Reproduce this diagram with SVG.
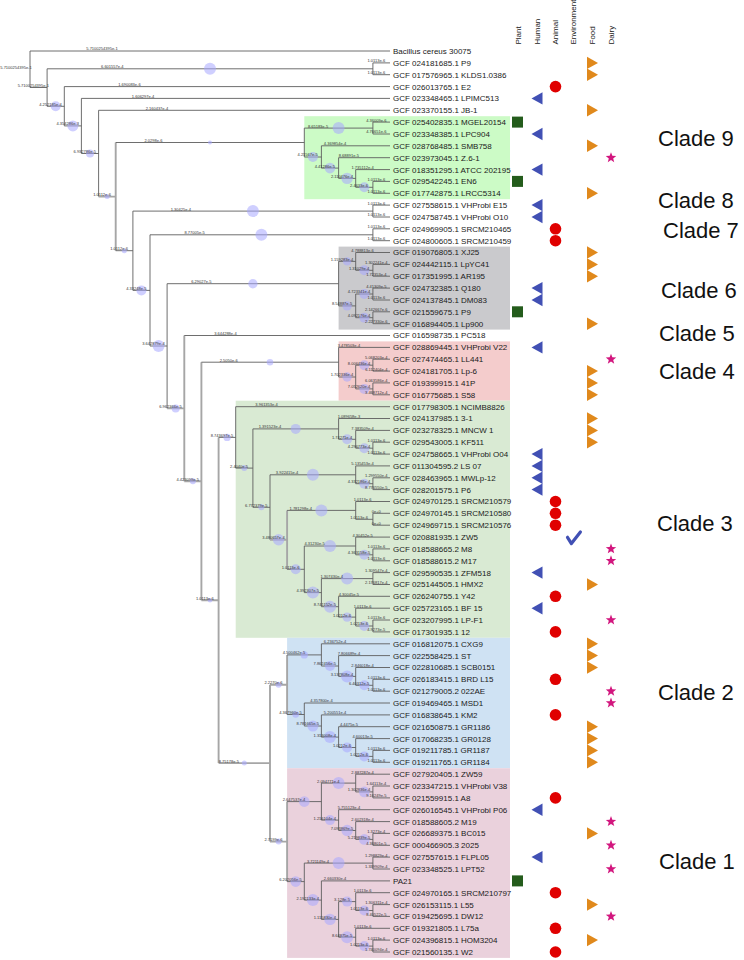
<svg xmlns="http://www.w3.org/2000/svg" width="744" height="960" viewBox="0 0 744 960">
<style>
.ln{fill:none;stroke:#5e5e5e;stroke-width:0.9}
.lt{fill:none;stroke:#a6a6a6;stroke-width:1.9}
.ci{fill:#a8a8ff;fill-opacity:0.55}
.bl{font-family:"Liberation Sans",Arial,sans-serif;font-size:4px;fill:#333;text-anchor:middle}
.lf{font-family:"Liberation Sans",Arial,sans-serif;font-size:8px;fill:#1a1a1a}
.hd{font-family:"Liberation Sans",Arial,sans-serif;font-size:8px;fill:#1a1a1a}
.cl{font-family:"Liberation Sans",Arial,sans-serif;font-size:22px;fill:#111}
</style>
<defs>
<rect id="plant" x="512" y="-5.5" width="11" height="11" fill="#245c1c"/>
<polygon id="human" points="531.5,0 542.5,-6.2 542.5,6.2" fill="#4150b4"/>
<circle id="animal" cx="555.5" cy="0" r="5.8" fill="#e00000"/>
<polygon id="food" points="587,-6.2 587,6.2 598,0" fill="#e0891c"/>
<polygon id="dairy" points="611,-5.5 612.35,-1.86 616.23,-1.7 613.19,0.71 614.23,4.45 611,2.3 607.77,4.45 608.81,0.71 605.77,-1.7 609.65,-1.86" fill="#d2167e"/>
</defs>
<rect width="744" height="960" fill="#ffffff"/>
<g id="clade-boxes">
<rect x="304.3" y="116.2" width="205.7" height="83" fill="#ccfbc6"/>
<rect x="338.6" y="246.6" width="171.4" height="83" fill="#cacacd"/>
<rect x="338.6" y="341.4" width="171.4" height="59.3" fill="#f4cccc"/>
<rect x="235.7" y="400.7" width="274.3" height="237.1" fill="#d9ead3"/>
<rect x="287.1" y="637.8" width="222.9" height="130.4" fill="#cfe2f3"/>
<rect x="287.1" y="768.2" width="222.9" height="189.7" fill="#ead1dc"/>
</g>
<g id="connectors">
<path class="ln" d="M30 51V87.5M47.1 68.8V106.3M372.9 62.9V74.7M64.3 86.6V125.9M81.4 98.4V153.5M98.6 110.3V196.6M304.3 128.1V157M372.9 122.1V134M321.4 145.8V168.1M338.6 157.7V178.4M355.7 169.6V187.3M372.9 181.4V193.3M132.9 211.1V290.4M372.9 205.1V217M150 234.8V346M372.9 228.8V240.7M167.1 283.7V408.4M338.6 261.4V305.9M355.7 252.5V270.3M372.9 264.4V276.2M355.7 294V317.7M372.9 288.1V300M372.9 311.8V323.7M338.6 347.4V377M355.7 365.2V388.9M372.9 359.2V371.1M372.9 382.9V394.8M235.7 406.7V468.1M252.9 428.9V507.3M338.6 418.5V439.3M355.7 430.4V448.2M372.9 442.2V454.1M270 474.8V539.8M355.7 465.9V483.7M372.9 477.8V489.6M355.7 501.5V519.3M372.9 513.3V525.2M304.3 546V592.6M355.7 537.1V554.8M372.9 548.9V560.8M321.4 578.6V606.7M372.9 572.6V584.5M338.6 596.3V617.1M355.7 608.2V626M372.9 620V631.9M321.4 643.8V666M338.6 655.6V676.4M355.7 667.5V685.3M372.9 679.3V691.2M304.3 703V726M321.4 714.9V737.1M338.6 726.7V747.5M355.7 738.6V756.4M372.9 750.4V762.3M321.4 783.1V820.1M355.7 774.2V791.9M372.9 786V797.9M338.6 809.7V830.5M355.7 821.6V839.4M372.9 833.4V845.3M304.3 863.1V900.1M372.9 857.1V869M321.4 880.9V919.4M338.6 901.6V937.2M355.7 892.7V910.5M372.9 904.6V916.4M355.7 928.3V946.1M372.9 940.1V952"/>
<path class="lt" d="M115.7 142.5V250.7M184.3 335.5V481.2M201.4 362.2V600.3M218.6 437.4V763.1M270 684.7V841.6M287.1 654.9V714.5M287.1 801.6V881.6M287.1 510.4V569.3M98.6 196.6H115.7M167.1 408.4H184.3M184.3 481.2H201.4M201.4 600.3H218.6M218.6 763.1H270M270 684.7H287.1M270 841.6H287.1M270 539.8H287.1"/>
<path class="ln" d="M30 87.5H47.1M47.1 68.8H372.9M47.1 106.3H64.3M64.3 125.9H81.4M81.4 153.5H98.6M115.7 142.5H304.3M115.7 250.7H132.9M132.9 211.1H372.9M132.9 290.4H150M150 234.8H372.9M150 346H167.1M167.1 283.7H338.6M201.4 362.2H338.6M218.6 437.4H235.7M304.3 128.1H372.9M304.3 157H321.4M321.4 168.1H338.6M338.6 178.4H355.7M355.7 187.3H372.9M338.6 261.4H355.7M355.7 270.3H372.9M338.6 305.9H355.7M355.7 294H372.9M355.7 317.7H372.9M338.6 377H355.7M355.7 365.2H372.9M355.7 388.9H372.9M235.7 468.1H252.9M252.9 428.9H338.6M338.6 439.3H355.7M355.7 448.2H372.9M252.9 507.3H270M270 474.8H355.7M355.7 483.7H372.9M287.1 510.4H355.7M355.7 519.3H372.9M287.1 569.3H304.3M304.3 546H355.7M355.7 554.8H372.9M304.3 592.6H321.4M321.4 578.6H372.9M321.4 606.7H338.6M338.6 617.1H355.7M355.7 626H372.9M287.1 654.9H321.4M321.4 666H338.6M338.6 676.4H355.7M355.7 685.3H372.9M287.1 714.5H304.3M304.3 726H321.4M321.4 737.1H338.6M338.6 747.5H355.7M355.7 756.4H372.9M287.1 801.6H321.4M321.4 783.1H355.7M355.7 791.9H372.9M321.4 820.1H338.6M338.6 830.5H355.7M355.7 839.4H372.9M287.1 881.6H304.3M304.3 863.1H372.9M304.3 900.1H321.4M321.4 919.4H338.6M338.6 901.6H355.7M355.7 910.5H372.9M338.6 937.2H355.7M355.7 946.1H372.9"/>
<path class="ln" d="M30 51H390M372.9 62.9H390M372.9 74.7H390M64.3 86.6H390M81.4 98.4H390M98.6 110.3H390M372.9 122.1H390M372.9 134H390M321.4 145.8H390M338.6 157.7H390M355.7 169.6H390M372.9 181.4H390M372.9 193.3H390M372.9 205.1H390M372.9 217H390M372.9 228.8H390M372.9 240.7H390M355.7 252.5H390M372.9 264.4H390M372.9 276.2H390M372.9 288.1H390M372.9 300H390M372.9 311.8H390M372.9 323.7H390M184.3 335.5H390M338.6 347.4H390M372.9 359.2H390M372.9 371.1H390M372.9 382.9H390M372.9 394.8H390M235.7 406.7H390M338.6 418.5H390M355.7 430.4H390M372.9 442.2H390M372.9 454.1H390M355.7 465.9H390M372.9 477.8H390M372.9 489.6H390M355.7 501.5H390M372.9 513.3H390M372.9 525.2H390M355.7 537.1H390M372.9 548.9H390M372.9 560.8H390M372.9 572.6H390M372.9 584.5H390M338.6 596.3H390M355.7 608.2H390M372.9 620H390M372.9 631.9H390M321.4 643.8H390M338.6 655.6H390M355.7 667.5H390M372.9 679.3H390M372.9 691.2H390M304.3 703H390M321.4 714.9H390M338.6 726.7H390M355.7 738.6H390M372.9 750.4H390M372.9 762.3H390M355.7 774.2H390M372.9 786H390M372.9 797.9H390M338.6 809.7H390M355.7 821.6H390M372.9 833.4H390M372.9 845.3H390M372.9 857.1H390M372.9 869H390M321.4 880.9H390M355.7 892.7H390M372.9 904.6H390M372.9 916.4H390M355.7 928.3H390M372.9 940.1H390M372.9 952H390"/>
</g>
<g id="support-circles">
<circle class="ci" cx="55.7" cy="106.3" r="5"/><circle class="ci" cx="72.9" cy="125.9" r="5.5"/><circle class="ci" cx="90" cy="153.5" r="4"/><circle class="ci" cx="107.1" cy="196.6" r="2.5"/><circle class="ci" cx="210" cy="68.8" r="6"/><circle class="ci" cx="210" cy="142.5" r="2"/><circle class="ci" cx="124.3" cy="250.7" r="2.5"/><circle class="ci" cx="252.9" cy="211.1" r="6"/><circle class="ci" cx="141.4" cy="290.4" r="5"/><circle class="ci" cx="261.4" cy="234.8" r="6"/><circle class="ci" cx="158.6" cy="346" r="6"/><circle class="ci" cx="252.9" cy="283.7" r="4.7"/><circle class="ci" cx="175.7" cy="408.4" r="4"/><circle class="ci" cx="192.9" cy="481.2" r="3"/><circle class="ci" cx="270" cy="362.2" r="3.3"/><circle class="ci" cx="210" cy="600.3" r="2.3"/><circle class="ci" cx="227.1" cy="437.4" r="3.7"/><circle class="ci" cx="244.3" cy="763.1" r="2.5"/><circle class="ci" cx="278.6" cy="684.7" r="3"/><circle class="ci" cx="278.6" cy="841.6" r="3"/>
<circle class="ci" cx="338.6" cy="128.1" r="6"/><circle class="ci" cx="312.9" cy="157" r="5"/><circle class="ci" cx="330" cy="168.1" r="5.3"/><circle class="ci" cx="347.1" cy="178.4" r="5.7"/><circle class="ci" cx="364.3" cy="187.3" r="5"/>
<circle class="ci" cx="347.1" cy="261.4" r="4.2"/><circle class="ci" cx="364.3" cy="270.3" r="5"/><circle class="ci" cx="347.1" cy="305.9" r="4.7"/><circle class="ci" cx="364.3" cy="294" r="5"/><circle class="ci" cx="364.3" cy="317.7" r="5"/>
<circle class="ci" cx="347.1" cy="377" r="4.7"/><circle class="ci" cx="364.3" cy="365.2" r="5"/><circle class="ci" cx="364.3" cy="388.9" r="5"/>
<circle class="ci" cx="244.3" cy="468.1" r="3"/><circle class="ci" cx="295.7" cy="428.9" r="5"/><circle class="ci" cx="347.1" cy="439.3" r="5"/><circle class="ci" cx="364.3" cy="448.2" r="5"/><circle class="ci" cx="261.4" cy="507.3" r="3"/><circle class="ci" cx="312.9" cy="474.8" r="6"/><circle class="ci" cx="364.3" cy="483.7" r="5"/><circle class="ci" cx="278.6" cy="539.8" r="5.7"/><circle class="ci" cx="321.4" cy="510.4" r="6"/><circle class="ci" cx="295.7" cy="569.3" r="5"/><circle class="ci" cx="330" cy="546" r="6"/><circle class="ci" cx="364.3" cy="554.8" r="5"/><circle class="ci" cx="312.9" cy="592.6" r="6"/><circle class="ci" cx="347.1" cy="578.6" r="6"/><circle class="ci" cx="330" cy="606.7" r="6"/><circle class="ci" cx="347.1" cy="617.1" r="4.7"/><circle class="ci" cx="364.3" cy="626" r="5"/>
<circle class="ci" cx="304.3" cy="654.9" r="3.7"/><circle class="ci" cx="330" cy="666" r="5"/><circle class="ci" cx="347.1" cy="676.4" r="6"/><circle class="ci" cx="364.3" cy="685.3" r="5"/><circle class="ci" cx="295.7" cy="714.5" r="3.3"/><circle class="ci" cx="312.9" cy="726" r="5.5"/><circle class="ci" cx="330" cy="737.1" r="6"/><circle class="ci" cx="347.1" cy="747.5" r="5"/><circle class="ci" cx="364.3" cy="756.4" r="5"/>
<circle class="ci" cx="304.3" cy="801.6" r="5.3"/><circle class="ci" cx="338.6" cy="783.1" r="6"/><circle class="ci" cx="364.3" cy="791.9" r="5.3"/><circle class="ci" cx="330" cy="820.1" r="5"/><circle class="ci" cx="347.1" cy="830.5" r="5.7"/><circle class="ci" cx="364.3" cy="839.4" r="5.3"/><circle class="ci" cx="295.7" cy="881.6" r="5.3"/><circle class="ci" cx="338.6" cy="863.1" r="6"/><circle class="ci" cx="312.9" cy="900.1" r="6"/><circle class="ci" cx="330" cy="919.4" r="5.7"/><circle class="ci" cx="347.1" cy="901.6" r="5"/><circle class="ci" cx="364.3" cy="910.5" r="5"/><circle class="ci" cx="347.1" cy="937.2" r="6"/><circle class="ci" cx="364.3" cy="946.1" r="5"/>
</g>
<g id="branch-labels">
<text class="bl" x="16" y="68.7">5.7100254395e-1</text>
<text class="bl" x="102" y="50.4">5.7100254395e-1</text>
<text class="bl" x="33.4" y="86.9">5.7100254395e-1</text>
<text class="bl" x="112.3" y="68.2">6.601557e-4</text>
<text class="bl" x="376.3" y="62.3">1.0113e-6</text>
<text class="bl" x="376.3" y="74.1">1.0113e-6</text>
<text class="bl" x="50.5" y="105.7">4.252185e-4</text>
<text class="bl" x="129.4" y="86">1.690083e-6</text>
<text class="bl" x="67.7" y="125.3">4.354286e-3</text>
<text class="bl" x="143.1" y="97.8">1.606297e-4</text>
<text class="bl" x="84.8" y="152.9">6.932786e-5</text>
<text class="bl" x="156.9" y="109.7">2.160437e-4</text>
<text class="bl" x="102" y="196">1.0112e-6</text>
<text class="bl" x="153.4" y="141.9">2.0298e-6</text>
<text class="bl" x="318" y="127.5">8.65183e-5</text>
<text class="bl" x="376.3" y="121.5">4.36009e-6</text>
<text class="bl" x="376.3" y="133.4">4.76651e-6</text>
<text class="bl" x="307.7" y="156.4">4.21567e-5</text>
<text class="bl" x="335.1" y="145.2">4.369854e-4</text>
<text class="bl" x="324.8" y="167.5">4.41286e-5</text>
<text class="bl" x="348.9" y="157.1">8.68891e-5</text>
<text class="bl" x="342" y="177.8">2.110476e-4</text>
<text class="bl" x="362.6" y="169">1.735112e-4</text>
<text class="bl" x="359.1" y="186.7">2.4633e-6</text>
<text class="bl" x="376.3" y="180.8">1.0113e-6</text>
<text class="bl" x="376.3" y="192.7">1.0113e-6</text>
<text class="bl" x="119.1" y="250.1">1.0112e-6</text>
<text class="bl" x="180.9" y="210.5">1.30425e-4</text>
<text class="bl" x="376.3" y="204.5">1.0113e-6</text>
<text class="bl" x="376.3" y="216.4">1.0113e-6</text>
<text class="bl" x="136.3" y="289.8">4.33248e-5</text>
<text class="bl" x="194.6" y="234.2">8.77005e-5</text>
<text class="bl" x="376.3" y="228.2">1.0113e-6</text>
<text class="bl" x="376.3" y="240.1">1.0113e-6</text>
<text class="bl" x="153.4" y="345.4">3.642879e-4</text>
<text class="bl" x="201.4" y="283.1">6.29027e-5</text>
<text class="bl" x="342" y="260.8">1.159283e-4</text>
<text class="bl" x="362.6" y="251.9">4.788813e-6</text>
<text class="bl" x="359.1" y="269.7">1.31029e-4</text>
<text class="bl" x="376.3" y="263.8">1.302241e-4</text>
<text class="bl" x="376.3" y="275.6">1.72353e-4</text>
<text class="bl" x="342" y="305.3">8.54887e-5</text>
<text class="bl" x="359.1" y="293.4">4.723341e-4</text>
<text class="bl" x="376.3" y="287.5">4.41309e-5</text>
<text class="bl" x="376.3" y="299.4">1.0113e-6</text>
<text class="bl" x="359.1" y="317.1">4.092176e-4</text>
<text class="bl" x="376.3" y="311.2">2.142667e-6</text>
<text class="bl" x="376.3" y="323.1">2.227330e-6</text>
<text class="bl" x="170.5" y="407.8">6.962366e-5</text>
<text class="bl" x="225.4" y="334.9">3.644288e-4</text>
<text class="bl" x="187.7" y="480.6">4.423099e-5</text>
<text class="bl" x="228.8" y="361.6">2.5050e-6</text>
<text class="bl" x="348.9" y="346.8">3.478503e-4</text>
<text class="bl" x="342" y="376.4">1.702336e-4</text>
<text class="bl" x="359.1" y="364.6">8.006436e-4</text>
<text class="bl" x="376.3" y="358.6">5.068203e-4</text>
<text class="bl" x="376.3" y="370.5">6.112404e-4</text>
<text class="bl" x="359.1" y="388.3">7.052620e-4</text>
<text class="bl" x="376.3" y="382.3">6.063586e-4</text>
<text class="bl" x="376.3" y="394.2">3.468712e-4</text>
<text class="bl" x="204.8" y="599.7">1.0113e-6</text>
<text class="bl" x="222" y="436.8">8.743697e-5</text>
<text class="bl" x="266.6" y="406.1">3.961353e-4</text>
<text class="bl" x="239.1" y="467.5">2.4040e-5</text>
<text class="bl" x="270" y="428.3">1.391523e-4</text>
<text class="bl" x="348.9" y="417.9">1.089658e-3</text>
<text class="bl" x="342" y="438.7">1.74271e-4</text>
<text class="bl" x="362.6" y="429.8">7.383509e-4</text>
<text class="bl" x="359.1" y="447.6">4.296773e-4</text>
<text class="bl" x="376.3" y="441.6">1.0113e-6</text>
<text class="bl" x="376.3" y="453.5">1.0113e-6</text>
<text class="bl" x="256.3" y="506.7">6.772379e-5</text>
<text class="bl" x="287.1" y="474.2">3.922415e-4</text>
<text class="bl" x="362.6" y="465.3">5.135453e-4</text>
<text class="bl" x="359.1" y="483.1">4.332186e-4</text>
<text class="bl" x="376.3" y="477.2">1.299550e-4</text>
<text class="bl" x="376.3" y="489">8.776550e-5</text>
<text class="bl" x="273.4" y="539.2">3.480657e-4</text>
<text class="bl" x="300.8" y="509.8">1.781298e-4</text>
<text class="bl" x="362.6" y="500.9">1.0113e-6</text>
<text class="bl" x="359.1" y="518.7">1.0113e-6</text>
<text class="bl" x="376.3" y="512.7">0e+0</text>
<text class="bl" x="376.3" y="524.6">0e+0</text>
<text class="bl" x="290.5" y="568.7">1.0113e-6</text>
<text class="bl" x="314.6" y="545.4">4.31230e-5</text>
<text class="bl" x="362.6" y="536.5">4.30452e-5</text>
<text class="bl" x="359.1" y="554.2">4.363158e-5</text>
<text class="bl" x="376.3" y="548.3">1.0113e-6</text>
<text class="bl" x="376.3" y="560.2">1.0113e-6</text>
<text class="bl" x="307.7" y="592">4.392307e-5</text>
<text class="bl" x="331.7" y="578">1.307430e-4</text>
<text class="bl" x="376.3" y="572">1.309547e-4</text>
<text class="bl" x="376.3" y="583.9">2.176817e-4</text>
<text class="bl" x="324.8" y="606.1">8.741152e-5</text>
<text class="bl" x="348.9" y="595.7">4.30045e-5</text>
<text class="bl" x="342" y="616.5">1.0212e-6</text>
<text class="bl" x="362.6" y="607.6">1.0113e-6</text>
<text class="bl" x="359.1" y="625.4">1.0213e-6</text>
<text class="bl" x="376.3" y="619.4">1.0113e-6</text>
<text class="bl" x="376.3" y="631.3">4.9273e-5</text>
<text class="bl" x="228.9" y="762.5">8.75178e-5</text>
<text class="bl" x="273.4" y="684.1">2.2270e-6</text>
<text class="bl" x="294" y="654.3">4.500462e-5</text>
<text class="bl" x="335.1" y="643.2">6.236752e-4</text>
<text class="bl" x="324.8" y="665.4">7.862456e-5</text>
<text class="bl" x="348.9" y="655">7.806689e-4</text>
<text class="bl" x="342" y="675.8">3.137808e-4</text>
<text class="bl" x="362.6" y="666.9">2.846018e-4</text>
<text class="bl" x="359.1" y="684.7">6.40312e-5</text>
<text class="bl" x="376.3" y="678.7">1.0113e-6</text>
<text class="bl" x="376.3" y="690.6">1.0113e-6</text>
<text class="bl" x="290.5" y="713.9">4.367960e-5</text>
<text class="bl" x="321.4" y="702.4">4.357800e-4</text>
<text class="bl" x="307.7" y="725.4">8.781665e-5</text>
<text class="bl" x="335.1" y="714.3">5.200551e-4</text>
<text class="bl" x="324.8" y="736.5">1.313008e-4</text>
<text class="bl" x="348.9" y="726.1">4.4475e-5</text>
<text class="bl" x="342" y="746.9">1.0212e-6</text>
<text class="bl" x="362.6" y="738">4.60013e-5</text>
<text class="bl" x="359.1" y="755.8">1.0212e-6</text>
<text class="bl" x="376.3" y="749.8">1.0113e-6</text>
<text class="bl" x="376.3" y="761.7">1.0113e-6</text>
<text class="bl" x="273.4" y="841">2.7199e-6</text>
<text class="bl" x="294" y="801">2.647537e-4</text>
<text class="bl" x="328.3" y="782.5">2.094771e-4</text>
<text class="bl" x="362.6" y="773.6">2.887287e-4</text>
<text class="bl" x="359.1" y="791.3">1.302836e-4</text>
<text class="bl" x="376.3" y="785.4">1.64113e-4</text>
<text class="bl" x="376.3" y="797.3">9.16249e-5</text>
<text class="bl" x="324.8" y="819.5">1.216104e-4</text>
<text class="bl" x="348.9" y="809.1">5.755123e-4</text>
<text class="bl" x="342" y="829.9">7.093869e-5</text>
<text class="bl" x="362.6" y="821">2.602318e-4</text>
<text class="bl" x="359.1" y="838.8">5.219839e-5</text>
<text class="bl" x="376.3" y="832.8">1.3273e-4</text>
<text class="bl" x="376.3" y="844.7">4.36801e-5</text>
<text class="bl" x="290.5" y="881">6.202056e-5</text>
<text class="bl" x="318" y="862.5">3.721149e-4</text>
<text class="bl" x="376.3" y="856.5">1.298829e-4</text>
<text class="bl" x="376.3" y="868.4">1.339909e-4</text>
<text class="bl" x="307.7" y="899.5">2.192133e-4</text>
<text class="bl" x="335.1" y="880.3">2.660330e-4</text>
<text class="bl" x="324.8" y="918.8">1.115830e-4</text>
<text class="bl" x="342" y="901">3.128e-5</text>
<text class="bl" x="362.6" y="892.1">1.0113e-6</text>
<text class="bl" x="359.1" y="909.9">1.0113e-6</text>
<text class="bl" x="376.3" y="904">1.306311e-4</text>
<text class="bl" x="376.3" y="915.8">8.40522e-5</text>
<text class="bl" x="342" y="936.6">8.64875e-5</text>
<text class="bl" x="362.6" y="927.7">1.0113e-6</text>
<text class="bl" x="359.1" y="945.5">1.0213e-6</text>
<text class="bl" x="376.3" y="939.5">1.0113e-6</text>
<text class="bl" x="376.3" y="951.4">1.740094e-4</text>
</g>
<g id="headers">
<text class="hd" transform="translate(521.2,44.5) rotate(-90)">Plant</text>
<text class="hd" transform="translate(539.6,44.5) rotate(-90)">Human</text>
<text class="hd" transform="translate(557.9,44.5) rotate(-90)">Animal</text>
<text class="hd" transform="translate(575.6,44.5) rotate(-90)">Environment</text>
<text class="hd" transform="translate(594.6,44.5) rotate(-90)">Food</text>
<text class="hd" transform="translate(613.6,44.5) rotate(-90)">Dairy</text>
</g>
<g id="leaves">
<g id="n01"><text class="lf" x="393" y="53.9">Bacillus cereus 30075</text></g>
<g id="n02"><text class="lf" x="393" y="65.8">GCF 024181685.1 P9</text><use href="#food" y="62.9"/></g>
<g id="n03"><text class="lf" x="393" y="77.6">GCF 017576965.1 KLDS1.0386</text><use href="#food" y="74.7"/></g>
<g id="n04"><text class="lf" x="393" y="89.5">GCF 026013765.1 E2</text><use href="#animal" y="86.6"/></g>
<g id="n05"><text class="lf" x="393" y="101.3">GCF 023348465.1 LPIMC513</text><use href="#human" y="98.4"/></g>
<g id="n06"><text class="lf" x="393" y="113.2">GCF 023370155.1 JB-1</text><use href="#food" y="110.3"/></g>
<g id="n07"><text class="lf" x="393" y="125">GCF 025402835.1 MGEL20154</text><use href="#plant" y="122.1"/></g>
<g id="n08"><text class="lf" x="393" y="136.9">GCF 023348385.1 LPC904</text><use href="#human" y="134"/></g>
<g id="n09"><text class="lf" x="393" y="148.7">GCF 028768485.1 SMB758</text><use href="#food" y="145.8"/></g>
<g id="n10"><text class="lf" x="393" y="160.6">GCF 023973045.1 Z.6-1</text><use href="#dairy" y="157.7"/></g>
<g id="n11"><text class="lf" x="393" y="172.5">GCF 018351295.1 ATCC 202195</text><use href="#human" y="169.6"/></g>
<g id="n12"><text class="lf" x="393" y="184.3">GCF 029542245.1 EN6</text><use href="#plant" y="181.4"/></g>
<g id="n13"><text class="lf" x="393" y="196.2">GCF 017742875.1 LRCC5314</text><use href="#food" y="193.3"/></g>
<g id="n14"><text class="lf" x="393" y="208">GCF 027558615.1 VHProbi E15</text><use href="#human" y="205.1"/></g>
<g id="n15"><text class="lf" x="393" y="219.9">GCF 024758745.1 VHProbi O10</text><use href="#human" y="217"/></g>
<g id="n16"><text class="lf" x="393" y="231.7">GCF 024969905.1 SRCM210465</text><use href="#animal" y="228.8"/></g>
<g id="n17"><text class="lf" x="393" y="243.6">GCF 024800605.1 SRCM210459</text><use href="#animal" y="240.7"/></g>
<g id="n18"><text class="lf" x="393" y="255.4">GCF 019076805.1 XJ25</text><use href="#food" y="252.5"/></g>
<g id="n19"><text class="lf" x="393" y="267.3">GCF 024442115.1 LpYC41</text><use href="#food" y="264.4"/></g>
<g id="n20"><text class="lf" x="393" y="279.1">GCF 017351995.1 AR195</text><use href="#food" y="276.2"/></g>
<g id="n21"><text class="lf" x="393" y="291">GCF 024732385.1 Q180</text><use href="#human" y="288.1"/></g>
<g id="n22"><text class="lf" x="393" y="302.9">GCF 024137845.1 DM083</text><use href="#human" y="300"/></g>
<g id="n23"><text class="lf" x="393" y="314.7">GCF 021559675.1 P9</text><use href="#plant" y="311.8"/></g>
<g id="n24"><text class="lf" x="393" y="326.6">GCF 016894405.1 Lp900</text><use href="#food" y="323.7"/></g>
<g id="n25"><text class="lf" x="393" y="338.4">GCF 016598735.1 PC518</text></g>
<g id="n26"><text class="lf" x="393" y="350.3">GCF 028869445.1 VHProbi V22</text><use href="#human" y="347.4"/></g>
<g id="n27"><text class="lf" x="393" y="362.1">GCF 027474465.1 LL441</text><use href="#dairy" y="359.2"/></g>
<g id="n28"><text class="lf" x="393" y="374">GCF 024181705.1 Lp-6</text><use href="#food" y="371.1"/></g>
<g id="n29"><text class="lf" x="393" y="385.8">GCF 019399915.1 41P</text><use href="#food" y="382.9"/></g>
<g id="n30"><text class="lf" x="393" y="397.7">GCF 016775685.1 S58</text><use href="#food" y="394.8"/></g>
<g id="n31"><text class="lf" x="393" y="409.6">GCF 017798305.1 NCIMB8826</text></g>
<g id="n32"><text class="lf" x="393" y="421.4">GCF 024137985.1 3-1</text><use href="#food" y="418.5"/></g>
<g id="n33"><text class="lf" x="393" y="433.3">GCF 023278325.1 MNCW 1</text><use href="#food" y="430.4"/></g>
<g id="n34"><text class="lf" x="393" y="445.1">GCF 029543005.1 KF511</text><use href="#food" y="442.2"/></g>
<g id="n35"><text class="lf" x="393" y="457">GCF 024758665.1 VHProbi O04</text><use href="#human" y="454.1"/></g>
<g id="n36"><text class="lf" x="393" y="468.8">GCF 011304595.2 LS 07</text><use href="#human" y="465.9"/></g>
<g id="n37"><text class="lf" x="393" y="480.7">GCF 028463965.1 MWLp-12</text><use href="#human" y="477.8"/></g>
<g id="n38"><text class="lf" x="393" y="492.5">GCF 028201575.1 P6</text><use href="#human" y="489.6"/></g>
<g id="n39"><text class="lf" x="393" y="504.4">GCF 024970125.1 SRCM210579</text><use href="#animal" y="501.5"/></g>
<g id="n40"><text class="lf" x="393" y="516.2">GCF 024970145.1 SRCM210580</text><use href="#animal" y="513.3"/></g>
<g id="n41"><text class="lf" x="393" y="528.1">GCF 024969715.1 SRCM210576</text><use href="#animal" y="525.2"/></g>
<g id="n42"><text class="lf" x="393" y="540">GCF 020881935.1 ZW5</text><polyline points="567.5,537.3 571.4,543.6 580.4,532" fill="none" stroke="#4150b4" stroke-width="3.2" stroke-linecap="round" stroke-linejoin="round"/></g>
<g id="n43"><text class="lf" x="393" y="551.8">GCF 018588665.2 M8</text><use href="#dairy" y="548.9"/></g>
<g id="n44"><text class="lf" x="393" y="563.7">GCF 018588615.2 M17</text><use href="#dairy" y="560.8"/></g>
<g id="n45"><text class="lf" x="393" y="575.5">GCF 029590535.1 ZFM518</text><use href="#human" y="572.6"/></g>
<g id="n46"><text class="lf" x="393" y="587.4">GCF 025144505.1 HMX2</text><use href="#food" y="584.5"/></g>
<g id="n47"><text class="lf" x="393" y="599.2">GCF 026240755.1 Y42</text><use href="#animal" y="596.3"/></g>
<g id="n48"><text class="lf" x="393" y="611.1">GCF 025723165.1 BF 15</text><use href="#human" y="608.2"/></g>
<g id="n49"><text class="lf" x="393" y="622.9">GCF 023207995.1 LP-F1</text><use href="#dairy" y="620"/></g>
<g id="n50"><text class="lf" x="393" y="634.8">GCF 017301935.1 12</text><use href="#animal" y="631.9"/></g>
<g id="n51"><text class="lf" x="393" y="646.7">GCF 016812075.1 CXG9</text><use href="#food" y="643.8"/></g>
<g id="n52"><text class="lf" x="393" y="658.5">GCF 022558425.1 ST</text><use href="#food" y="655.6"/></g>
<g id="n53"><text class="lf" x="393" y="670.4">GCF 022810685.1 SCB0151</text><use href="#food" y="667.5"/></g>
<g id="n54"><text class="lf" x="393" y="682.2">GCF 026183415.1 BRD L15</text><use href="#animal" y="679.3"/></g>
<g id="n55"><text class="lf" x="393" y="694.1">GCF 021279005.2 022AE</text><use href="#dairy" y="691.2"/></g>
<g id="n56"><text class="lf" x="393" y="705.9">GCF 019469465.1 MSD1</text><use href="#dairy" y="703"/></g>
<g id="n57"><text class="lf" x="393" y="717.8">GCF 016838645.1 KM2</text><use href="#animal" y="714.9"/></g>
<g id="n58"><text class="lf" x="393" y="729.6">GCF 021650875.1 GR1186</text><use href="#food" y="726.7"/></g>
<g id="n59"><text class="lf" x="393" y="741.5">GCF 017068235.1 GR0128</text><use href="#food" y="738.6"/></g>
<g id="n60"><text class="lf" x="393" y="753.3">GCF 019211785.1 GR1187</text><use href="#food" y="750.4"/></g>
<g id="n61"><text class="lf" x="393" y="765.2">GCF 019211765.1 GR1184</text><use href="#food" y="762.3"/></g>
<g id="n62"><text class="lf" x="393" y="777.1">GCF 027920405.1 ZW59</text></g>
<g id="n63"><text class="lf" x="393" y="788.9">GCF 023347215.1 VHProbi V38</text></g>
<g id="n64"><text class="lf" x="393" y="800.8">GCF 021559915.1 A8</text><use href="#animal" y="797.9"/></g>
<g id="n65"><text class="lf" x="393" y="812.6">GCF 026016545.1 VHProbi P06</text><use href="#human" y="809.7"/></g>
<g id="n66"><text class="lf" x="393" y="824.5">GCF 018588605.2 M19</text><use href="#dairy" y="821.6"/></g>
<g id="n67"><text class="lf" x="393" y="836.3">GCF 026689375.1 BC015</text><use href="#food" y="833.4"/></g>
<g id="n68"><text class="lf" x="393" y="848.2">GCF 000466905.3 2025</text><use href="#dairy" y="845.3"/></g>
<g id="n69"><text class="lf" x="393" y="860">GCF 027557615.1 FLPL05</text><use href="#human" y="857.1"/></g>
<g id="n70"><text class="lf" x="393" y="871.9">GCF 023348525.1 LPT52</text><use href="#dairy" y="869"/></g>
<g id="n71"><text class="lf" x="393" y="883.8">PA21</text><use href="#plant" y="880.9"/></g>
<g id="n72"><text class="lf" x="393" y="895.6">GCF 024970165.1 SRCM210797</text><use href="#animal" y="892.7"/></g>
<g id="n73"><text class="lf" x="393" y="907.5">GCF 026153115.1 L55</text><use href="#food" y="904.6"/></g>
<g id="n74"><text class="lf" x="393" y="919.3">GCF 019425695.1 DW12</text><use href="#dairy" y="916.4"/></g>
<g id="n75"><text class="lf" x="393" y="931.2">GCF 019321805.1 L75a</text><use href="#animal" y="928.3"/></g>
<g id="n76"><text class="lf" x="393" y="943">GCF 024396815.1 HOM3204</text><use href="#food" y="940.1"/></g>
<g id="n77"><text class="lf" x="393" y="954.9">GCF 021560135.1 W2</text><use href="#animal" y="952"/></g>
</g>
<g id="clade-labels">
<text class="cl" x="658" y="145.6">Clade 9</text>
<text class="cl" x="658" y="208">Clade 8</text>
<text class="cl" x="663" y="238">Clade 7</text>
<text class="cl" x="661" y="298">Clade 6</text>
<text class="cl" x="659" y="341">Clade 5</text>
<text class="cl" x="659" y="379">Clade 4</text>
<text class="cl" x="657" y="531">Clade 3</text>
<text class="cl" x="658" y="700">Clade 2</text>
<text class="cl" x="659" y="869">Clade 1</text>
</g>
</svg>
